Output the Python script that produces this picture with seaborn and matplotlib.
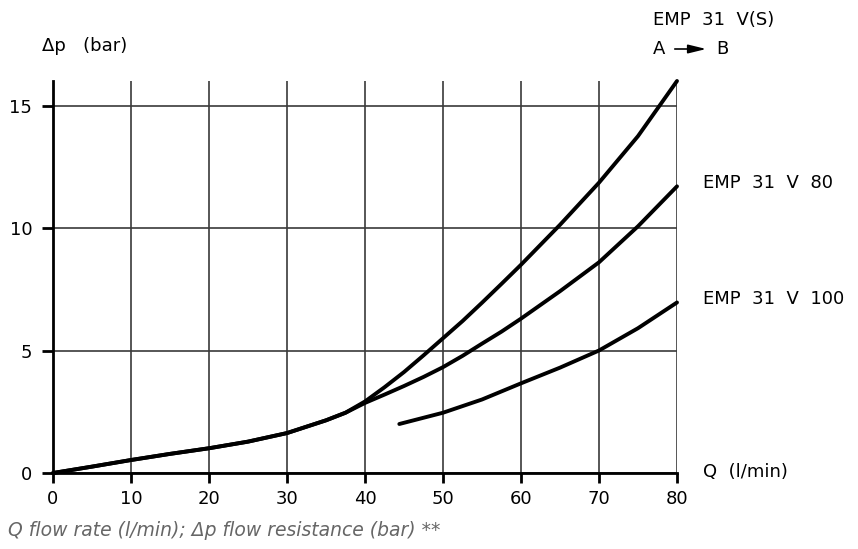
import numpy as np
import pandas as pd
import matplotlib
matplotlib.use("Agg")
import matplotlib.pyplot as plt
import seaborn as sns

# ---- data ----
q_common = [0, 5, 10, 15, 20, 25, 30, 35, 37.5]
dp_common = [0.0, 0.26, 0.53, 0.78, 1.01, 1.28, 1.63, 2.15, 2.46]

q_upper = [40, 42.5, 45, 47.5, 50, 52.5, 55, 57.5, 60, 65, 70, 75, 80]
dp_vs = [2.92, 3.5, 4.12, 4.8, 5.5, 6.2, 6.95, 7.72, 8.5, 10.13, 11.85, 13.75, 16.0]
dp_v80 = [2.86, 3.2, 3.55, 3.92, 4.32, 4.78, 5.28, 5.77, 6.3, 7.42, 8.6, 10.07, 11.7]

q_v100 = [44.4, 50, 55, 60, 65, 70, 75, 80]
dp_v100 = [2.0, 2.46, 3.0, 3.66, 4.3, 5.0, 5.91, 6.96]

x_ticks = [0, 10, 20, 30, 40, 50, 60, 70, 80]
y_ticks = [0, 5, 10, 15]

series_labels = ["EMP  31  V(S)", "EMP  31  V  80", "EMP  31  V  100"]

rows = []
for q, d in zip(q_common + q_upper, dp_common + dp_vs):
    rows.append(("V(S)", q, d))
for q, d in zip(q_common + q_upper, dp_common + dp_v80):
    rows.append(("V80", q, d))
for q, d in zip(q_v100, dp_v100):
    rows.append(("V100", q, d))
df = pd.DataFrame(rows, columns=["series", "Q", "dp"])

sns.set_style("white")
plt.rcParams["font.family"] = ["DejaVu Sans"]
plt.rcParams["text.color"] = "black"
plt.rcParams["xtick.color"] = "black"
plt.rcParams["ytick.color"] = "black"

W, H = 858, 549
fig = plt.figure(figsize=(W / 100, H / 100), dpi=100)
ax = fig.add_axes([53 / W, 1 - 473 / H, 624 / W, 392 / H])

sns.lineplot(data=df, x="Q", y="dp", hue="series", units="series", estimator=None,
             palette={"V(S)": "black", "V80": "black", "V100": "black"},
             linewidth=2.8, legend=False, sort=False, ax=ax, zorder=5)
for line in ax.get_lines():
    line.set_clip_on(False)
    line.set_solid_capstyle("round")
    line.set_solid_joinstyle("round")

ax.set_xlim(0, 80)
ax.set_ylim(0, 16.0)
ax.set_xticks(x_ticks)
ax.set_yticks(y_ticks)
ax.set_xlabel("")
ax.set_ylabel("")
ax.grid(True, color="#3a3a3a", linewidth=1.2)
ax.set_axisbelow(True)
for s in ["top", "right"]:
    ax.spines[s].set_visible(False)
ax.spines["left"].set_linewidth(2)
ax.spines["bottom"].set_linewidth(2)
ax.spines["left"].set_color("black")
ax.spines["bottom"].set_color("black")
ax.tick_params(axis="x", length=7, width=2, direction="out", pad=5,
               labelsize=13, colors="black", bottom=True)
ax.tick_params(axis="y", length=8, width=2, direction="out", pad=7,
               labelsize=13, colors="black", left=True)

def ftext(x, y, s, **kw):
    fig.text(x / W, 1 - y / H, s, **kw)

ftext(42, 46, "Δp   (bar)", fontsize=13, va="center", ha="left")
ftext(653, 20, series_labels[0], fontsize=13, va="center", ha="left")
ftext(653, 49, "A", fontsize=13, va="center", ha="left")
ftext(716, 49, "B", fontsize=13, va="center", ha="left")
fig.add_artist(matplotlib.patches.FancyArrowPatch(
    (672 / W, 1 - 49 / H), (709 / W, 1 - 49 / H), transform=fig.transFigure,
    arrowstyle="-|>,head_length=0.9,head_width=0.22", color="black",
    linewidth=1.2, mutation_scale=12))
ftext(703, 183, series_labels[1], fontsize=13, va="center", ha="left")
ftext(703, 299, series_labels[2], fontsize=13, va="center", ha="left")
ftext(703, 472, "Q  (l/min)", fontsize=13, va="center", ha="left")
ftext(8, 530, "Q flow rate (l/min); Δp flow resistance (bar) **", fontsize=13.5,
      va="center", ha="left", style="italic", color="#666666")

fig.savefig("out.png", dpi=100)
